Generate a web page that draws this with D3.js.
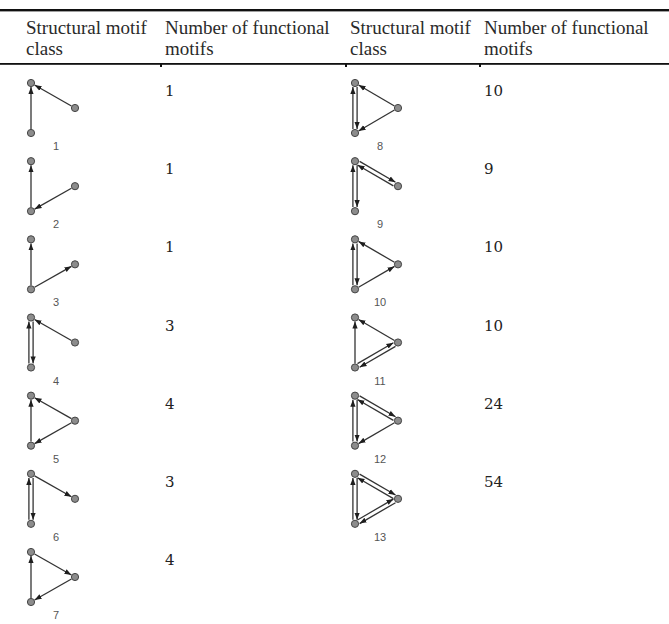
<!DOCTYPE html>
<html lang="en">
<head>
<meta charset="UTF-8">
<title>Structural motif classes</title>
<script src="https://d3js.org/d3.v7.min.js"></script>
<style>
    body { margin: 0; background: #fff; }
    .rule { fill: #111; }
    .head { font-family: "Liberation Serif", serif; font-size: 19px; fill: #2a2a2a; }
    .count { font-family: "DejaVu Serif", serif; font-size: 15px; fill: #222; }
    .label { font-family: "Liberation Sans", Arial, sans-serif; font-size: 11px; fill: #555; text-anchor: middle; }
    .edge { stroke: #333; stroke-width: 1.3px; }
    .node { fill: #8c8c8c; stroke: #444; stroke-width: 1px; }
</style>
</head>
<body>
<svg id="table" width="669" height="624"></svg>
<script>
    // data
    const headers = [["Structural motif", "class"], ["Number of functional", "motifs"],
                     ["Structural motif", "class"], ["Number of functional", "motifs"]];
    const motifIds = [1, 2, 3, 4, 5, 6, 7, 8, 9, 10, 11, 12, 13];
    const counts = [1, 1, 1, 3, 4, 3, 4, 10, 9, 10, 10, 24, 54];
    // T = top node, B = bottom node, R = right node; ">" one way, "=" both ways
    const motifEdges = [
        ["B>T", "R>T"],
        ["B>T", "R>B"],
        ["B>T", "B>R"],
        ["T=B", "R>T"],
        ["B>T", "R>T", "R>B"],
        ["T=B", "T>R"],
        ["B>T", "T>R", "R>B"],
        ["T=B", "R>T", "R>B"],
        ["T=B", "T=R"],
        ["T=B", "R>T", "B>R"],
        ["B>T", "R>T", "B=R"],
        ["T=B", "T=R", "R>B"],
        ["T=B", "T=R", "B=R"]
    ];

    const svg = d3.select("#table");
    const W = +svg.attr("width");

    const defs = svg.append("defs");
    defs.append("marker").attr("id", "arr")
        .attr("viewBox", "0 -4 8 8").attr("refX", 8).attr("refY", 0)
        .attr("markerUnits", "userSpaceOnUse")
        .attr("markerWidth", 7).attr("markerHeight", 7).attr("orient", "auto")
        .append("path").attr("d", "M0,-3L8,0L0,3Z").attr("fill", "#1e1e1e");

    // column x positions (text) and motif x positions
    const colX = d3.scaleOrdinal().domain([0, 1, 2, 3]).range([26, 165, 350, 484]);
    const motifX = d3.scaleOrdinal().domain([0, 1]).range([31, 355]);
    const motifW = d3.scaleOrdinal().domain([0, 1]).range([44, 43]);
    const rowTop = d3.scaleLinear().domain([0, 6]).range([83, 552]);

    // rules
    svg.append("rect").attr("class", "rule").attr("x", 0).attr("y", 9).attr("width", W).attr("height", 2.4);
    svg.append("rect").attr("class", "rule").attr("x", 0).attr("y", 63).attr("width", W).attr("height", 1.8);
    [1, 2, 3].forEach(i => {
        svg.append("rect").attr("class", "rule")
            .attr("x", colX(i) - 5).attr("y", 64).attr("width", 2).attr("height", 3);
    });

    headers.forEach((h, i) => {
        const t = svg.append("text").attr("class", "head");
        h.forEach((line, k) => {
            t.append("tspan").attr("x", colX(i)).attr("y", 34 + k * 21).text(line);
        });
    });

    const motifs = motifIds.map((id, i) => ({
        id: id, count: counts[i], edges: motifEdges[i],
        col: i < 7 ? 0 : 1, row: i < 7 ? i : i - 7
    }));

    const r = 3.6, off = 2.1;

    function drawLine(g, a, b, shift) {
        const dx = b[0] - a[0], dy = b[1] - a[1];
        const len = Math.hypot(dx, dy);
        const ux = dx / len, uy = dy / len;
        const nx = uy * shift, ny = -ux * shift;
        g.append("line").attr("class", "edge")
            .attr("x1", a[0] + ux * (r + 0.5) + nx).attr("y1", a[1] + uy * (r + 0.5) + ny)
            .attr("x2", b[0] - ux * (r + 0.5) + nx).attr("y2", b[1] - uy * (r + 0.5) + ny)
            .attr("marker-end", "url(#arr)");
    }

    motifs.forEach(m => {
        const x0 = motifX(m.col), y0 = rowTop(m.row);
        const nodes = {
            T: [x0, y0],
            B: [x0, y0 + 50],
            R: [x0 + motifW(m.col), y0 + 25]
        };
        const g = svg.append("g");
        m.edges.forEach(e => {
            const a = nodes[e[0]], b = nodes[e[2]];
            if (e[1] === "=") {
                drawLine(g, a, b, off);
                drawLine(g, b, a, off);
            } else {
                drawLine(g, a, b, 0);
            }
        });
        g.selectAll("circle").data(Object.values(nodes)).join("circle")
            .attr("class", "node").attr("cx", d => d[0]).attr("cy", d => d[1]).attr("r", r);
        g.append("text").attr("class", "label")
            .attr("x", x0 + 25).attr("y", y0 + 67).text(m.id);

        svg.append("text").attr("class", "count")
            .attr("x", colX(m.col * 2 + 1)).attr("y", y0 + 13).text(m.count);
    });
</script>
</body>
</html>
